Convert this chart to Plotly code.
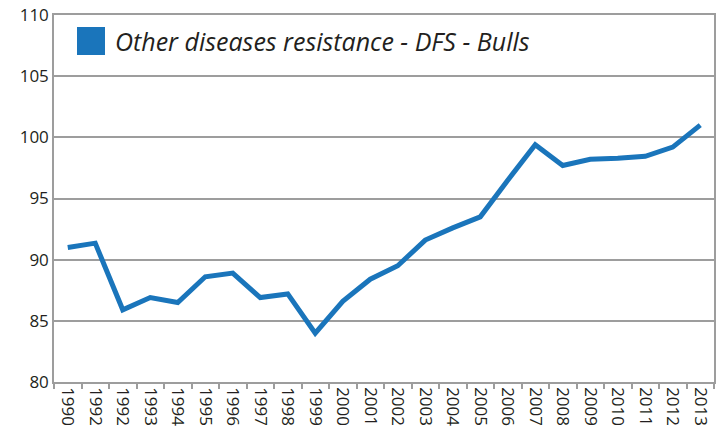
import plotly.graph_objects as go

years = ["1990", "1992", "1992", "1993", "1994", "1995", "1996", "1997", "1998", "1999",
         "2000", "2001", "2002", "2003", "2004", "2005", "2006", "2007", "2008", "2009",
         "2010", "2011", "2012", "2013"]
values = [91.0, 91.35, 85.9, 86.9, 86.5, 88.6, 88.9, 86.9, 87.2, 84.0,
          86.6, 88.4, 89.5, 91.6, 92.6, 93.5, 96.5, 99.4, 97.7, 98.2,
          98.3, 98.45, 99.2, 101.0]
series_name = "Other diseases resistance - DFS - Bulls"
y_ticks = [80, 85, 90, 95, 100, 105, 110]

idx = list(range(len(years)))
grid = "#9d9d9d"
blue = "#1a75bb"
txt = "#231f20"

fig = go.Figure()
fig.add_trace(go.Scatter(x=idx, y=values, mode="lines", name=series_name,
                         line=dict(color=blue, width=5), showlegend=False))

fig.update_layout(
    width=721, height=427,
    margin=dict(l=54, r=7, t=15, b=45, autoexpand=False),
    plot_bgcolor="white", paper_bgcolor="white",
    font=dict(family="Open Sans", size=15, color=txt),
    xaxis=dict(
        range=[-0.5, len(years) - 0.5],
        tickmode="array", tickvals=idx, ticktext=years,
        tickangle=90, ticks="", showgrid=False, automargin=False,
        showline=True, linecolor=grid, linewidth=1.5, mirror=True,
        tickfont=dict(size=17, color=txt),
        minor=dict(tick0=-0.5, dtick=1, ticks="outside", ticklen=5,
                   tickcolor=grid, tickwidth=1.5, showgrid=False),
        zeroline=False,
    ),
    yaxis=dict(
        range=[80, 110], tickvals=y_ticks, ticks="", automargin=False,
        showgrid=True, gridcolor=grid, gridwidth=1.5,
        showline=True, linecolor=grid, linewidth=1.5, mirror=True,
        tickfont=dict(size=17, color=txt), zeroline=False,
    ),
)

# legend swatch + label
fig.add_shape(type="rect", xref="paper", yref="paper",
              x0=(77 - 54) / 660, x1=(105 - 54) / 660,
              y0=1 - (55 - 15) / 367, y1=1 - (27 - 15) / 367,
              fillcolor=blue, line=dict(width=0))
fig.add_annotation(xref="paper", yref="paper",
                   x=(113 - 54) / 660, y=1 - (41 - 15) / 367,
                   xanchor="left", yanchor="middle", showarrow=False,
                   text="<i>" + series_name + "</i>",
                   font=dict(family="Open Sans", size=25, color=txt))

fig.write_html("out.html", config={"displayModeBar": False},
               post_script="document.body.style.margin='0';document.body.style.overflow='hidden';")
